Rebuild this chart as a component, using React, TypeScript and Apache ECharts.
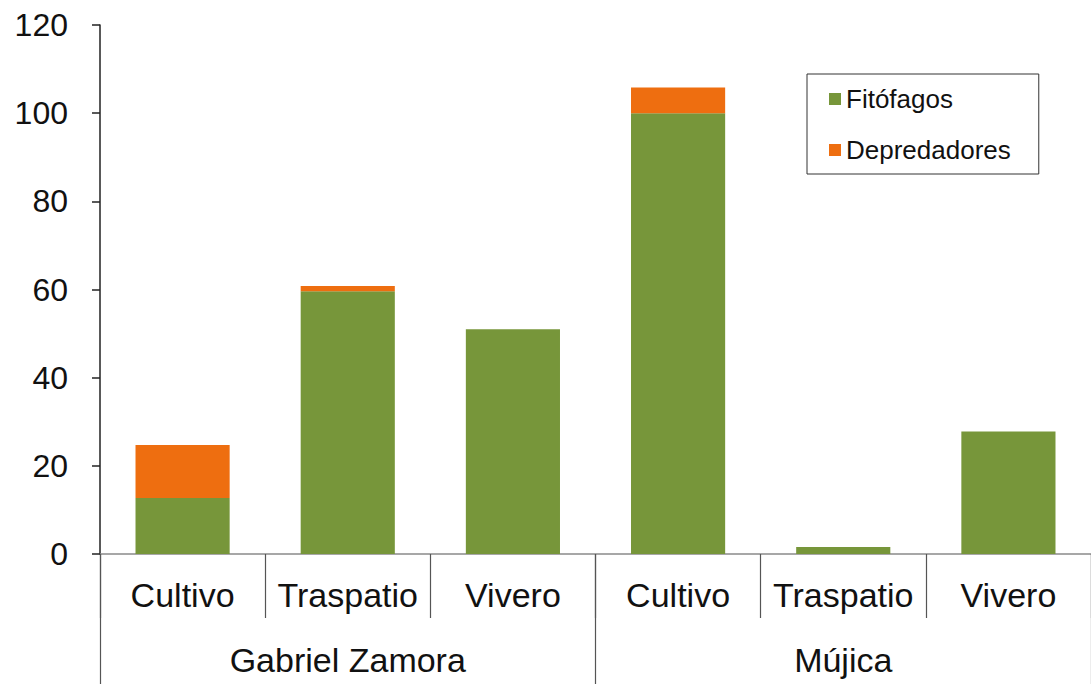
import React, { useEffect, useRef } from "react";
import * as echarts from "echarts";

const categories = ["Cultivo", "Traspatio", "Vivero", "Cultivo", "Traspatio", "Vivero"];
const groups = ["Gabriel Zamora", "Mújica"];
const fitofagos = [12.7, 59.6, 51, 100, 1.6, 27.8];
const depredadores = [12, 1.2, 0, 5.8, 0, 0];
const yTicks = { min: 0, max: 120, interval: 20 };

const FONT = "'Liberation Sans', Arial, sans-serif";

export default function App() {
  const ref = useRef<HTMLDivElement>(null);
  useEffect(() => {
    document.body.style.margin = "0";
    const chart = echarts.init(ref.current!, null, { renderer: "svg" });
    chart.setOption({
      animation: false,
      backgroundColor: "#ffffff",
      textStyle: { fontFamily: FONT },
      grid: { left: 100, top: 25, width: 1002, height: 529, containLabel: false },
      legend: {
        orient: "vertical",
        left: 807,
        top: 74,
        padding: [12, 28, 11, 22],
        itemGap: 25,
        itemWidth: 12,
        itemHeight: 12,
        borderColor: "#333",
        borderWidth: 1,
        icon: "rect",
        textStyle: { fontSize: 26, color: "#111", fontFamily: FONT },
        data: ["Fitófagos", "Depredadores"],
      },
      xAxis: [
        {
          type: "category",
          data: categories,
          position: "bottom",
          axisLine: { show: true, lineStyle: { color: "#8a8a8a", width: 1.5 } },
          axisTick: { show: true, interval: 0, length: 64, lineStyle: { color: "#555", width: 1.2 } },
          axisLabel: { interval: 0, fontSize: 34, color: "#111", margin: 24, fontFamily: FONT },
        },
        {
          type: "category",
          data: groups,
          position: "bottom",
          axisLine: { show: false },
          axisTick: { show: true, interval: 0, length: 130, lineStyle: { color: "#555", width: 1.2 } },
          axisLabel: { interval: 0, fontSize: 34, color: "#111", margin: 89, fontFamily: FONT },
        },
      ],
      yAxis: {
        type: "value",
        min: yTicks.min,
        max: yTicks.max,
        interval: yTicks.interval,
        axisLine: { show: true, lineStyle: { color: "#222", width: 1.5 } },
        axisTick: { show: true, inside: false, length: 8, lineStyle: { color: "#222", width: 1.5 } },
        axisLabel: { fontSize: 32, color: "#111", margin: 32, fontFamily: FONT },
        splitLine: { show: false },
      },
      series: [
        {
          name: "Fitófagos",
          type: "bar",
          stack: "total",
          data: fitofagos,
          barWidth: "57%",
          itemStyle: { color: "#77963A" },
        },
        {
          name: "Depredadores",
          type: "bar",
          stack: "total",
          data: depredadores,
          barWidth: "57%",
          itemStyle: { color: "#EE6E10" },
        },
      ],
    });
    return () => chart.dispose();
  }, []);
  return <div ref={ref} style={{ width: 1091, height: 684 }} />;
}
